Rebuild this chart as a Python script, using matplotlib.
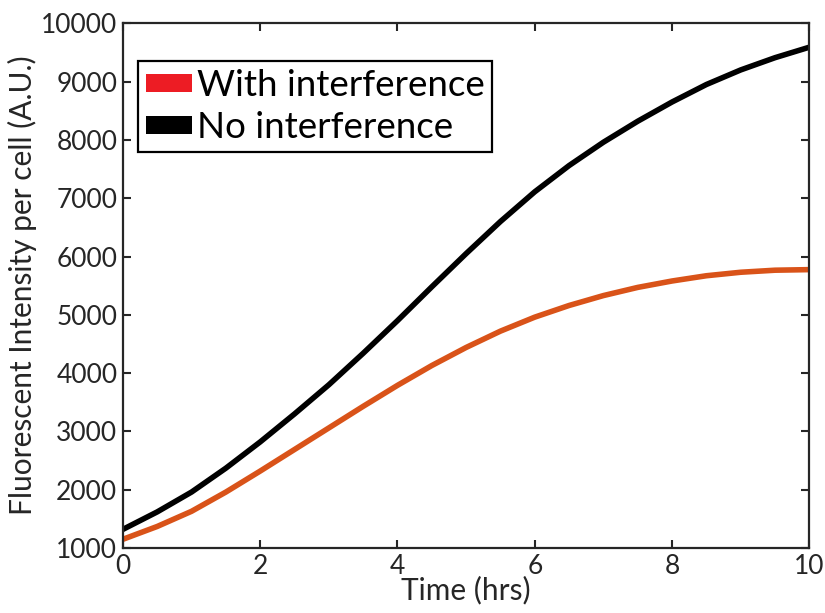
import matplotlib
matplotlib.use("Agg")
import matplotlib.pyplot as plt
from matplotlib.patches import Patch

plt.rcParams['font.family'] = ['Lato', 'DejaVu Sans']

# time (hrs)
t = [0, 0.5, 1, 1.5, 2, 2.5, 3, 3.5, 4, 4.5, 5,
     5.5, 6, 6.5, 7, 7.5, 8, 8.5, 9, 9.5, 10]

# fluorescence per cell
no_interf = [1320, 1620, 1960, 2370, 2820, 3300, 3800, 4340, 4900, 5480, 6050,
             6600, 7110, 7560, 7960, 8320, 8650, 8950, 9200, 9410, 9590]
with_interf = [1150, 1370, 1630, 1960, 2320, 2690, 3060, 3430, 3790, 4130, 4440,
               4720, 4960, 5160, 5330, 5470, 5580, 5670, 5730, 5765, 5775]

axcol = '#262626'

fig = plt.figure(figsize=(8.25, 6.13), dpi=100)
ax = fig.add_axes([0.149, 0.106, 0.832, 0.856])

ax.plot(t, with_interf, color='#D95319', lw=4.0, solid_joinstyle='round')
ax.plot(t, no_interf, color='black', lw=4.0, solid_joinstyle='round')

ax.set_xlim(0, 10)
ax.set_ylim(1000, 10000)
ax.set_xticks([0, 2, 4, 6, 8, 10])
ax.set_yticks(range(1000, 10001, 1000))

ax.tick_params(direction='in', length=6, width=1.5, top=True, right=True,
               labelsize=19, colors=axcol, pad=4)
for s in ax.spines.values():
    s.set_linewidth(1.6)
    s.set_color(axcol)

ax.set_xlabel('Time (hrs)', fontsize=21.5, color=axcol, labelpad=-2)
ax.set_ylabel('Fluorescent Intensity per cell (A.U.)', fontsize=21.5, color=axcol, labelpad=3)

handles = [Patch(facecolor='#ED1C24', edgecolor='none'),
           Patch(facecolor='black', edgecolor='none')]
leg = ax.legend(handles, ['With interference', 'No interference'],
                loc='upper left', bbox_to_anchor=(0.022, 0.928), fontsize=26.5,
                frameon=True, fancybox=False, framealpha=1, edgecolor='black',
                handlelength=1.25, handleheight=0.35, handletextpad=0.12,
                borderpad=0.22, labelspacing=0.25, borderaxespad=0)
leg.get_frame().set_linewidth(1.6)

fig.savefig('out.png', dpi=100)
